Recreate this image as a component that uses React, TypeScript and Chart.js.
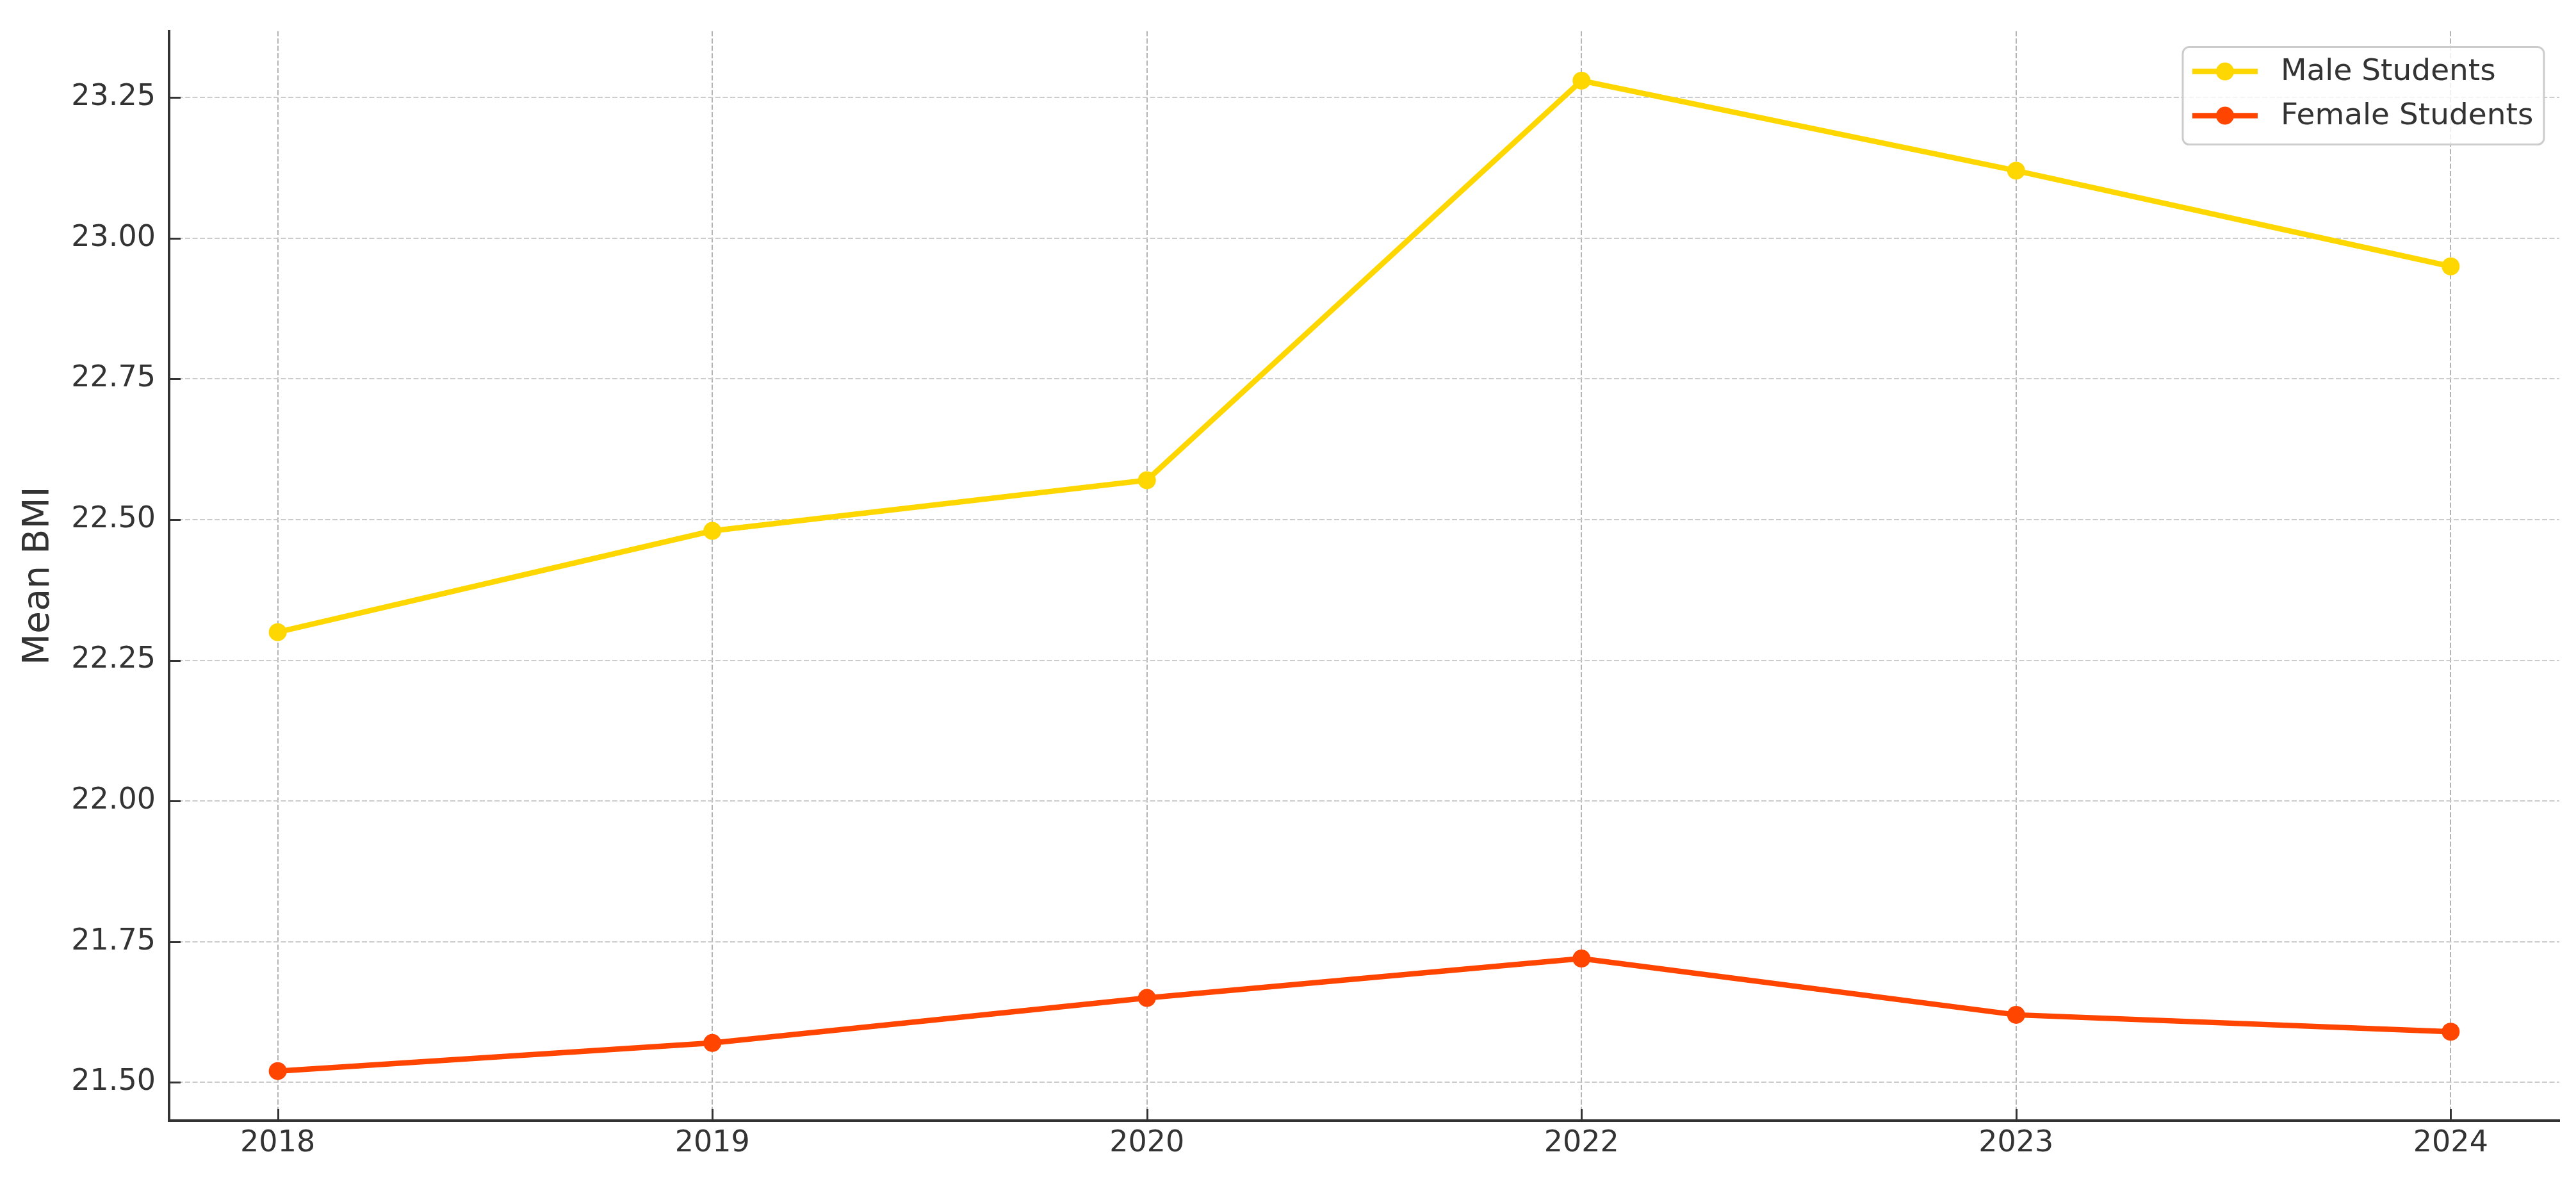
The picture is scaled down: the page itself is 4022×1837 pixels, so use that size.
import React, { useEffect, useRef } from "react";
import { Chart, registerables } from "chart.js";

Chart.register(...registerables);

const years = ["2018", "2019", "2020", "2022", "2023", "2024"];
const maleBMI = [22.3, 22.48, 22.57, 23.28, 23.12, 22.95];
const femaleBMI = [21.52, 21.57, 21.65, 21.72, 21.62, 21.59];
const yTickValues = [21.5, 21.75, 22.0, 22.25, 22.5, 22.75, 23.0, 23.25];
const seriesLabels = ["Male Students", "Female Students"];
const seriesColors = ["#FFD700", "#FF4500"];
const yAxisTitle = "Mean BMI";

const W = 4022;
const H = 1837;
const FONT = "'DejaVu Sans', 'Noto Sans', sans-serif";
const TEXT = "#333333";

const inwardTicks = {
  id: "inwardTicks",
  beforeDatasetsDraw(chart: any) {
    const { ctx, chartArea, scales } = chart;
    ctx.save();
    ctx.strokeStyle = "#333333";
    ctx.lineWidth = 3;
    ctx.beginPath();
    scales.y.ticks.forEach((_t: any, i: number) => {
      const y = Math.round(scales.y.getPixelForTick(i)) + 0.5;
      ctx.moveTo(chartArea.left, y);
      ctx.lineTo(chartArea.left + 18, y);
    });
    scales.x.ticks.forEach((_t: any, i: number) => {
      const x = Math.round(scales.x.getPixelForTick(i)) + 0.5;
      ctx.moveTo(x, chartArea.bottom);
      ctx.lineTo(x, chartArea.bottom - 18);
    });
    ctx.stroke();
    ctx.restore();
  },
};

const innerLegend = {
  id: "innerLegend",
  afterDraw(chart: any) {
    const { ctx, chartArea } = chart;
    const right = chartArea.right - 24;
    const top = chartArea.top + 25;
    const width = 564;
    const height = 152;
    const left = right - width;
    ctx.save();
    ctx.beginPath();
    (ctx as any).roundRect(left, top, width, height, 10);
    ctx.fillStyle = "rgba(255,255,255,0.8)";
    ctx.fill();
    ctx.strokeStyle = "#cccccc";
    ctx.lineWidth = 3;
    ctx.stroke();
    chart.data.datasets.forEach((ds: any, i: number) => {
      const cy = top + 38 + i * 69;
      ctx.strokeStyle = ds.borderColor;
      ctx.lineWidth = 8.5;
      ctx.beginPath();
      ctx.moveTo(left + 15, cy);
      ctx.lineTo(left + 117, cy);
      ctx.stroke();
      ctx.fillStyle = ds.borderColor;
      ctx.beginPath();
      ctx.arc(left + 66, cy, 14, 0, Math.PI * 2);
      ctx.fill();
      ctx.fillStyle = TEXT;
      ctx.font = `47px ${FONT}`;
      ctx.textAlign = "left";
      ctx.textBaseline = "middle";
      ctx.fillText(ds.label, left + 153, cy + 1);
    });
    ctx.restore();
  },
};

export default function App() {
  const ref = useRef<HTMLCanvasElement | null>(null);

  useEffect(() => {
    document.body.style.margin = "0";
    const canvas = ref.current;
    if (!canvas) return;

    const allVals = [...maleBMI, ...femaleBMI];
    const lo = Math.min(...allVals);
    const hi = Math.max(...allVals);
    const yMargin = (hi - lo) * 0.05;
    const xMargin = (years.length - 1) * 0.05;

    const seriesData = [maleBMI, femaleBMI];

    const chart = new Chart(canvas, {
      type: "line",
      data: {
        datasets: seriesData.map((vals, s) => ({
          label: seriesLabels[s],
          data: vals.map((v, i) => ({ x: i, y: v })),
          borderColor: seriesColors[s],
          backgroundColor: seriesColors[s],
          pointBackgroundColor: seriesColors[s],
          pointBorderColor: seriesColors[s],
          pointBorderWidth: 0,
          pointRadius: 14,
          borderWidth: 8.5,
          tension: 0,
          fill: false,
        })),
      },
      options: {
        animation: false,
        responsive: false,
        devicePixelRatio: 1,
        events: [],
        layout: { padding: { top: 38, right: 26, left: 0, bottom: 0 } },
        plugins: {
          legend: { display: false },
          tooltip: { enabled: false },
        },
        scales: {
          x: {
            type: "linear",
            min: -xMargin,
            max: years.length - 1 + xMargin,
            afterBuildTicks: (scale: any) => {
              scale.ticks = years.map((_y, i) => ({ value: i }));
            },
            afterFit: (scale: any) => {
              scale.height = 88;
            },
            ticks: {
              callback: (v: any) => years[Math.round(Number(v))] ?? "",
              font: { family: FONT, size: 46 },
              color: TEXT,
              padding: 8,
              maxRotation: 0,
              autoSkip: false,
            },
            grid: {
              color: "#b4b4b4",
              lineWidth: 2,
              drawTicks: false,
            },
            border: { display: true, color: "#333333", width: 4, dash: [8, 3.5] },
          },
          y: {
            type: "linear",
            min: lo - yMargin,
            max: hi + yMargin,
            afterBuildTicks: (scale: any) => {
              scale.ticks = yTickValues.map((v) => ({ value: v }));
            },
            afterFit: (scale: any) => {
              scale.width = 264;
            },
            ticks: {
              callback: (v: any) => Number(v).toFixed(2),
              font: { family: FONT, size: 46 },
              color: TEXT,
              padding: 21,
              autoSkip: false,
            },
            grid: {
              color: "#cccccc",
              lineWidth: 2,
              drawTicks: false,
            },
            border: { display: true, color: "#333333", width: 4, dash: [8, 3.5] },
            title: {
              display: true,
              text: yAxisTitle,
              font: { family: FONT, size: 57 },
              color: TEXT,
              padding: { top: 27, bottom: 0 },
            },
          },
        },
      },
      plugins: [inwardTicks, innerLegend],
    });

    return () => chart.destroy();
  }, []);

  return (
    <div style={{ width: W, height: H }}>
      <canvas ref={ref} width={W} height={H} style={{ display: "block", width: W, height: H }} />
    </div>
  );
}
